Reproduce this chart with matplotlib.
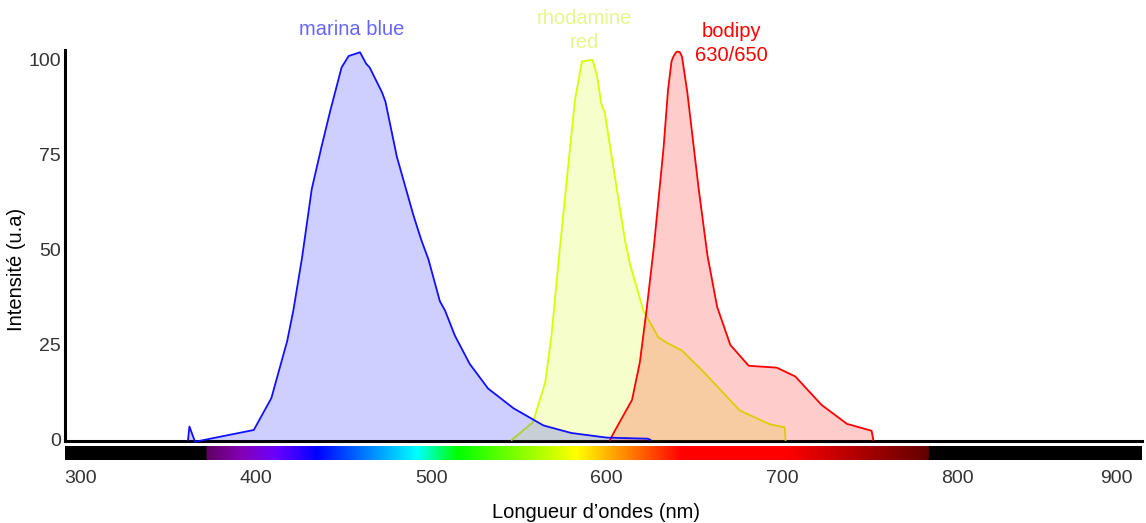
#!/usr/bin/env python3

"""
Emission spectra of three fluorophores with a visible-spectrum strip
under the wavelength axis. Writes out.png.
"""

import numpy as np
import matplotlib

matplotlib.use("Agg")

import matplotlib.pyplot as plt
from matplotlib.colors import to_rgb

# ============================================================
# Data
# ============================================================

marina_nm = [361.5, 362.3, 365.5, 399, 409, 418, 421.5, 426.5, 432, 437.5,
             442.5, 449, 453, 459.5, 463, 465, 472, 474, 480.5, 490,
             494.5, 498.5, 505, 508, 513.5, 522, 532.5, 547, 564, 573.5,
             580, 600, 623.5, 625]
marina_int = [0, 3.5, -0.5, 2.6, 11, 26, 34, 48, 66, 77,
              86.5, 98, 101, 102, 99, 98, 91.5, 89, 74.5, 59,
              52.5, 47.5, 36.5, 34, 27.5, 20, 13.5, 8.3, 3.8, 2.6,
              1.8, 0.6, 0.3, 0]

rhodamine_nm = [546, 558, 565, 568.5, 573.5, 580, 582, 586, 592, 594.5,
                597, 599, 605, 610.5, 613.5, 621, 629.5, 634.5, 643, 649.5,
                655, 676, 693, 701.5, 702]
rhodamine_int = [0, 4.6, 15, 27, 51, 80.5, 89.5, 99.6, 100, 96,
                 88.5, 86, 68.5, 52.5, 46, 34, 27, 25.5, 23.5, 20.5,
                 18, 7.7, 4.1, 3.3, 0]

bodipy_nm = [602, 604, 614.5, 619, 623, 627, 632.5, 635, 637, 638,
             639.6, 640.7, 641.8, 643, 646, 652.5, 657.5, 663, 670.5, 681,
             697, 707.5, 722.5, 737, 751, 752]
bodipy_int = [0, 1.8, 10.5, 20.5, 35, 51, 77, 92, 99.6, 100.8,
              102, 102.2, 102, 100.8, 91.5, 66, 48.5, 35, 25, 19.5,
              19, 16.7, 9.2, 4.2, 2.4, 0]

x_ticks = [300, 400, 500, 600, 700, 800, 900]
y_ticks = [0, 25, 50, 75, 100]

# colour stops of the spectrum strip (nm -> colour)
spectrum_nm = [372, 392, 412, 435, 492, 515, 583, 643, 702, 784]
spectrum_colors = ["#610061", "#8300b5", "#6a00ff", "#0000ff", "#00ffff",
                   "#00ff00", "#ffff00", "#ff0000", "#ff0000", "#610000"]

X_MIN, X_MAX = 291.4, 905.1
Y_MIN, Y_MAX = -0.3, 102.6

FONT = ["Liberation Sans", "DejaVu Sans"]
TEXT_COLOR = "#333333"


# ============================================================
# Spectrum strip
# ============================================================

def spectrum_image(n=1400):

    wl = np.linspace(X_MIN, X_MAX, n)

    rgb = np.array([to_rgb(c) for c in spectrum_colors])

    channels = [
        np.interp(wl, spectrum_nm, rgb[:, k], left=0.0, right=0.0)
        for k in range(3)
    ]

    return np.stack(channels, axis=-1)[np.newaxis, :, :]


# ============================================================
# Series
# ============================================================

def draw_series(ax, nm, values, line_color, zorder):

    ax.fill_between(
        nm,
        values,
        0,
        color=line_color,
        alpha=0.2,
        linewidth=0,
        zorder=zorder
    )

    ax.plot(
        nm,
        values,
        color=line_color,
        linewidth=1.3,
        zorder=zorder,
        clip_on=False
    )


# ============================================================
# Figure
# ============================================================

def main():

    plt.rcParams["font.family"] = FONT

    fig = plt.figure(figsize=(11.46, 5.23), dpi=100)

    W, H = 1146.0, 523.0

    ax = fig.add_axes([65 / W, 1 - 441 / H, 1077 / W, 391 / H])
    ax_bar = fig.add_axes([65 / W, 1 - 460 / H, 1077 / W, 14 / H])

    # spectra (yellow at the bottom, blue on top)
    draw_series(ax, rhodamine_nm, rhodamine_int, "#d6ff00", 1)
    draw_series(ax, bodipy_nm, bodipy_int, "#ff0000", 2)
    draw_series(ax, marina_nm, marina_int, "#1010ff", 3)

    ax.set_xlim(X_MIN, X_MAX)
    ax.set_ylim(Y_MIN, Y_MAX)

    for side in ["top", "right"]:
        ax.spines[side].set_visible(False)

    for side in ["left", "bottom"]:
        ax.spines[side].set_linewidth(2.2)
        ax.spines[side].set_color("black")
        ax.spines[side].set_zorder(0.5)

    ax.set_xticks([])
    ax.set_yticks(y_ticks)
    ax.tick_params(
        axis="y",
        length=0,
        pad=3,
        labelsize=14,
        labelcolor=TEXT_COLOR
    )

    # series labels
    ax.text(455, 108, "marina blue", color="#6666ff",
            fontsize=14.5, ha="center", va="center", clip_on=False)

    ax.text(587, 107.7, "rhodamine\nred", color="#e6f78a",
            fontsize=14.5, ha="center", va="center",
            linespacing=1.38, clip_on=False)

    ax.text(671, 104.3, "bodipy\n630/650", color="#ff0000",
            fontsize=14.5, ha="center", va="center",
            linespacing=1.38, clip_on=False)

    # spectrum strip
    ax_bar.imshow(
        spectrum_image(),
        extent=[X_MIN, X_MAX, 0, 1],
        aspect="auto",
        interpolation="bilinear"
    )

    ax_bar.set_xlim(X_MIN, X_MAX)
    ax_bar.set_yticks([])
    ax_bar.set_xticks(x_ticks)
    ax_bar.tick_params(
        axis="x",
        length=0,
        pad=7,
        labelsize=14,
        labelcolor=TEXT_COLOR
    )

    for spine in ax_bar.spines.values():
        spine.set_visible(False)

    ax_bar.get_xticklabels()[-1].set_horizontalalignment("right")

    # axis titles
    fig.text(17 / W, 1 - 269 / H, "Intensité (u.a)",
             rotation=90, ha="center", va="center",
             fontsize=14.5, color="black")

    fig.text(596 / W, 1 - 512 / H, "Longueur d\u2019ondes (nm)",
             ha="center", va="center", fontsize=14.5, color="black")

    fig.savefig("out.png", dpi=100)

    plt.close(fig)


if __name__ == "__main__":

    main()
